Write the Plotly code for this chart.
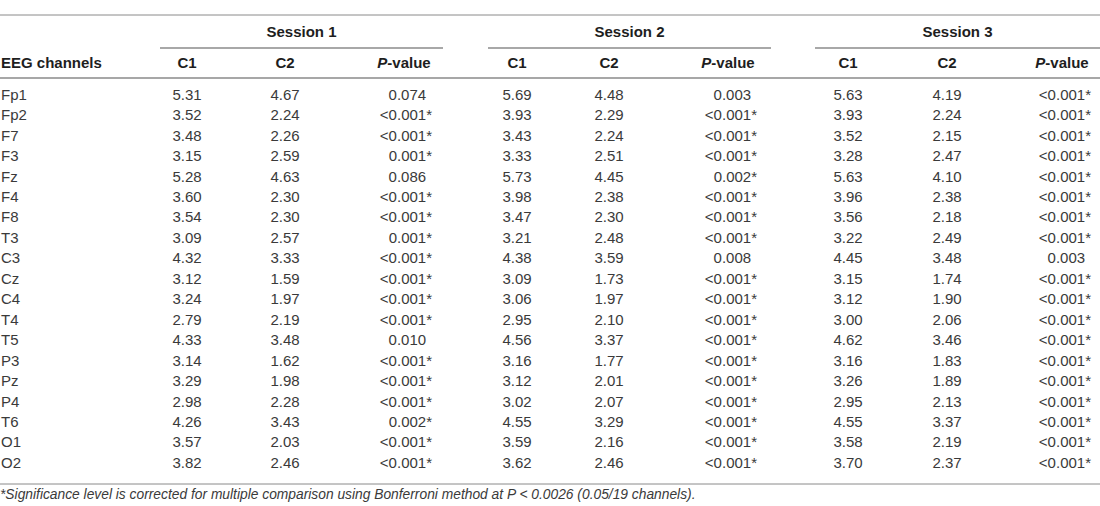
import plotly.graph_objects as go

# ---------------- data ----------------
channels = ["Fp1", "Fp2", "F7", "F3", "Fz", "F4", "F8", "T3", "C3", "Cz",
            "C4", "T4", "T5", "P3", "Pz", "P4", "T6", "O1", "O2"]
sessions = ["Session 1", "Session 2", "Session 3"]
col_heads = ["C1", "C2", "<i>P</i>-value"]

s1_c1 = [5.31, 3.52, 3.48, 3.15, 5.28, 3.60, 3.54, 3.09, 4.32, 3.12, 3.24, 2.79, 4.33, 3.14, 3.29, 2.98, 4.26, 3.57, 3.82]
s1_c2 = [4.67, 2.24, 2.26, 2.59, 4.63, 2.30, 2.30, 2.57, 3.33, 1.59, 1.97, 2.19, 3.48, 1.62, 1.98, 2.28, 3.43, 2.03, 2.46]
s1_p = ["0.074", "<0.001*", "<0.001*", "0.001*", "0.086", "<0.001*", "<0.001*", "0.001*", "<0.001*", "<0.001*",
        "<0.001*", "<0.001*", "0.010", "<0.001*", "<0.001*", "<0.001*", "0.002*", "<0.001*", "<0.001*"]

s2_c1 = [5.69, 3.93, 3.43, 3.33, 5.73, 3.98, 3.47, 3.21, 4.38, 3.09, 3.06, 2.95, 4.56, 3.16, 3.12, 3.02, 4.55, 3.59, 3.62]
s2_c2 = [4.48, 2.29, 2.24, 2.51, 4.45, 2.38, 2.30, 2.48, 3.59, 1.73, 1.97, 2.10, 3.37, 1.77, 2.01, 2.07, 3.29, 2.16, 2.46]
s2_p = ["0.003", "<0.001*", "<0.001*", "<0.001*", "0.002*", "<0.001*", "<0.001*", "<0.001*", "0.008", "<0.001*",
        "<0.001*", "<0.001*", "<0.001*", "<0.001*", "<0.001*", "<0.001*", "<0.001*", "<0.001*", "<0.001*"]

s3_c1 = [5.63, 3.93, 3.52, 3.28, 5.63, 3.96, 3.56, 3.22, 4.45, 3.15, 3.12, 3.00, 4.62, 3.16, 3.26, 2.95, 4.55, 3.58, 3.70]
s3_c2 = [4.19, 2.24, 2.15, 2.47, 4.10, 2.38, 2.18, 2.49, 3.48, 1.74, 1.90, 2.06, 3.46, 1.83, 1.89, 2.13, 3.37, 2.19, 2.37]
s3_p = ["<0.001*", "<0.001*", "<0.001*", "<0.001*", "<0.001*", "<0.001*", "<0.001*", "<0.001*", "0.003", "<0.001*",
        "<0.001*", "<0.001*", "<0.001*", "<0.001*", "<0.001*", "<0.001*", "<0.001*", "<0.001*", "<0.001*"]

footnote = ("*Significance level is corrected for multiple comparison using Bonferroni method at "
            "<i>P</i> < 0.0026 (0.05/19 channels).")

# ---------------- layout constants ----------------
W, H = 1100, 506
FONT = "Liberation Sans"
FS = 15
BODY = "#3a3a3a"
HEAD = "#1e1e1e"
ROW0, ROWSTEP = 96, 20.45            # pixel centre of first row, row pitch
STAR_W = 0.389 * FS                  # width of the asterisk glyph

def r(py):
    """pixel y -> row units on the y axis"""
    return (py - ROW0) / ROWSTEP

# per session: underline start/end, C1 centre, C2 centre, P header centre, P right edge
sess_geom = [
    dict(x0=160, x1=443, c1=187, c2=285, ph=404, pr=432),
    dict(x0=488, x1=771, c1=517, c2=609, ph=728, pr=757),
    dict(x0=815, x1=1100, c1=848, c2=947, ph=1062, pr=1091),
]
session_data = [(s1_c1, s1_c2, s1_p), (s2_c1, s2_c2, s2_p), (s3_c1, s3_c2, s3_p)]

rows = list(range(len(channels)))
fig = go.Figure()

# channel names (left aligned)
fig.add_trace(go.Scatter(x=[1] * len(channels), y=rows, text=channels, mode="text",
                         textposition="middle right",
                         textfont=dict(family=FONT, size=FS, color=BODY), hoverinfo="skip"))

for g, (c1, c2, p) in zip(sess_geom, session_data):
    fig.add_trace(go.Scatter(x=[g["c1"]] * len(c1), y=rows, text=[f"{v:.2f}" for v in c1],
                             mode="text", textposition="middle center",
                             textfont=dict(family=FONT, size=FS, color=BODY), hoverinfo="skip"))
    fig.add_trace(go.Scatter(x=[g["c2"]] * len(c2), y=rows, text=[f"{v:.2f}" for v in c2],
                             mode="text", textposition="middle center",
                             textfont=dict(family=FONT, size=FS, color=BODY), hoverinfo="skip"))
    px = [g["pr"] - (0 if s.endswith("*") else STAR_W) for s in p]
    fig.add_trace(go.Scatter(x=px, y=rows, text=p, mode="text", textposition="middle left",
                             textfont=dict(family=FONT, size=FS, color=BODY), hoverinfo="skip"))

# header texts
hy = r(64)
sy = r(33)
fig.add_trace(go.Scatter(x=[1], y=[hy], text=["<b>EEG channels</b>"], mode="text",
                         textposition="middle right",
                         textfont=dict(family=FONT, size=FS, color=HEAD), hoverinfo="skip"))
hx, ht = [], []
for g in sess_geom:
    hx += [g["c1"], g["c2"], g["ph"]]
    ht += [f"<b>{h}</b>" for h in col_heads]
fig.add_trace(go.Scatter(x=hx, y=[hy] * len(hx), text=ht, mode="text", textposition="middle center",
                         textfont=dict(family=FONT, size=FS, color=HEAD), hoverinfo="skip"))
fig.add_trace(go.Scatter(x=[(g["x0"] + g["x1"]) / 2 for g in sess_geom], y=[sy] * 3,
                         text=[f"<b>{s}</b>" for s in sessions], mode="text",
                         textposition="middle center",
                         textfont=dict(family=FONT, size=FS, color=HEAD), hoverinfo="skip"))

# footnote
fig.add_trace(go.Scatter(x=[0], y=[r(496)], text=[f"<i>{footnote}</i>"], mode="text",
                         textposition="middle right",
                         textfont=dict(family=FONT, size=13.8, color=BODY), hoverinfo="skip"))

# rules
shapes = [
    dict(type="line", x0=0, x1=W, y0=r(15), y1=r(15), line=dict(color="#8a8a8a", width=1)),
    dict(type="line", x0=0, x1=W, y0=r(78), y1=r(78), line=dict(color="#8a8a8a", width=1.5)),
    dict(type="line", x0=0, x1=W, y0=r(484), y1=r(484), line=dict(color="#8a8a8a", width=1)),
]
for g in sess_geom:
    shapes.append(dict(type="line", x0=g["x0"], x1=g["x1"], y0=r(48), y1=r(48),
                       line=dict(color="#a8a8a8", width=2)))

fig.update_layout(
    width=W, height=H, margin=dict(l=0, r=0, t=0, b=0),
    paper_bgcolor="white", plot_bgcolor="white", showlegend=False,
    xaxis=dict(range=[0, W], visible=False, fixedrange=True),
    yaxis=dict(range=[r(H), r(0)], visible=False, fixedrange=True),
    shapes=shapes,
)

fig.write_html("out.html", config={"displayModeBar": False},
               post_script="document.body.style.margin='0';document.body.style.overflow='hidden';")
